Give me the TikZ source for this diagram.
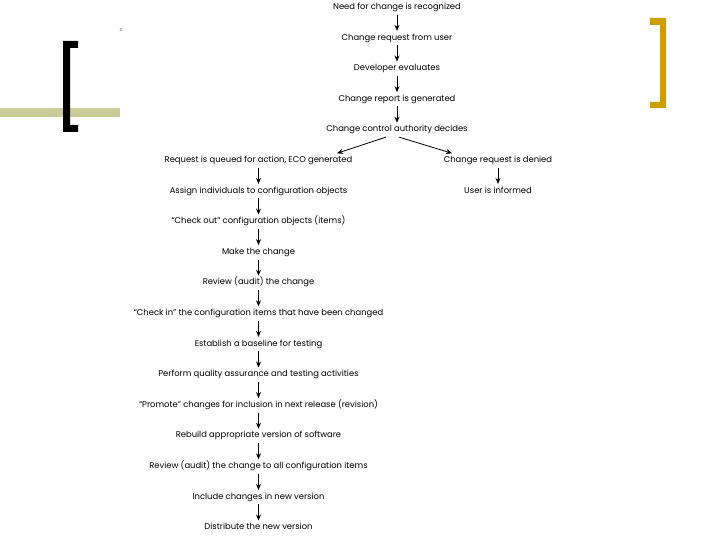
\documentclass[tikz,border=0pt]{standalone}
\usepackage{fontspec}
\setmainfont{Poppins}
\usetikzlibrary{positioning,arrows.meta}
\definecolor{olivebar}{RGB}{204,204,153}
\definecolor{goldbar}{RGB}{204,158,0}

\begin{document}
\begin{tikzpicture}[x=1pt,y=-1pt,
  stepbox/.style={on grid, font=\fontsize{8.4}{10}\selectfont, inner sep=0pt, text height=6pt, text depth=2pt, minimum height=14pt},
  arr/.style={-{Stealth[length=6pt,width=5pt]}, line width=0.8pt}]
\useasboundingbox (0,0) rectangle (720,540);
\fill [olivebar] (0,108) rectangle (120,117);
\fill (63,41) -- (78,41) -- (78,48) -- (70,48) -- (70,125) -- (78,125) -- (78,132) -- (63,132) -- cycle;
\fill [goldbar] (666,18) -- (650,18) -- (650,25) -- (660,25) -- (660,102) -- (650,102) -- (650,108) -- (666,108) -- cycle;
\node [font=\fontsize{5}{6}\selectfont, text=black!60] (s) at (121,30) {s};

\node [stepbox] (n1) at (397,7.5) {Need for change is recognized};
\node [stepbox, below=30.6pt of n1] (n2) {Change request from user};
\node [stepbox, below=30.6pt of n2] (n3) {Developer evaluates};
\node [stepbox, below=30.6pt of n3] (n4) {Change report is generated};
\node [stepbox, below=30.6pt of n4] (n5) {Change control authority decides};
\node [stepbox, below left=30.6pt and 138.5pt of n5] (n6) {Request is queued for action, ECO generated};
\node [stepbox, below right=30.6pt and 101pt of n5] (d1) {Change request is denied};
\node [stepbox, below=30.6pt of d1] (d2) {User is informed};
\node [stepbox, below=30.6pt of n6] (n7) {Assign individuals to configuration objects};
\node [stepbox, below=30.6pt of n7] (n8) {``Check out'' configuration objects (items)};
\node [stepbox, below=30.6pt of n8] (n9) {Make the change};
\node [stepbox, below=30.6pt of n9] (n10) {Review (audit) the change};
\node [stepbox, below=30.6pt of n10] (n11) {``Check in'' the configuration items that have been changed};
\node [stepbox, below=30.6pt of n11] (n12) {Establish a baseline for testing};
\node [stepbox, below=30.6pt of n12] (n13) {Perform quality assurance and testing activities};
\node [stepbox, below=30.6pt of n13] (n14) {``Promote'' changes for inclusion in next release (revision)};
\node [stepbox, below=30.6pt of n14] (n15) {Rebuild appropriate version of software};
\node [stepbox, below=30.6pt of n15] (n16) {Review (audit) the change to all configuration items};
\node [stepbox, below=30.6pt of n16] (n17) {Include changes in new version};
\node [stepbox, below=30.6pt of n17] (n18) {Distribute the new version};

\foreach \a/\b in {n1/n2,n2/n3,n3/n4,n4/n5,n6/n7,n7/n8,n8/n9,n9/n10,n10/n11,n11/n12,n12/n13,n13/n14,n14/n15,n15/n16,n16/n17,n17/n18,d1/d2}
  \draw [arr] (\a) -- (\b);
\draw [arr] ([xshift=-11pt]n5.south) -- ([xshift=78.5pt]n6.north);
\draw [arr] ([xshift=2pt]n5.south) -- ([xshift=-46pt]d1.north);
\end{tikzpicture}
\end{document}
